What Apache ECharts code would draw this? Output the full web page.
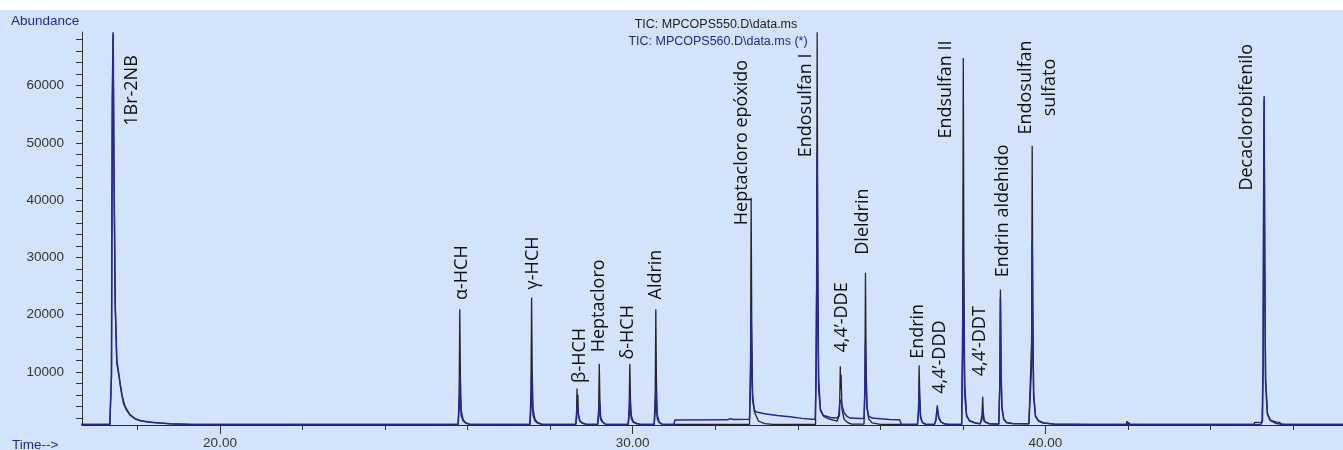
<!DOCTYPE html>
<html>
<head>
<meta charset="utf-8">
<title>TIC MPCOPS550 / MPCOPS560</title>
<script src="https://cdn.jsdelivr.net/npm/echarts@6/dist/echarts.min.js"></script>
<style>
  html, body { margin: 0; padding: 0; background: #ffffff; }
  #chart { width: 1343px; height: 450px; }
</style>
</head>
<body>
<div id="chart"></div>
<script>
// Retention-time window (min) and abundance window of the plot
const timeWindow = [16.656, 47.211];
const abundanceWindow = [744, 69343];

// Axis ticks and labels
const timeTicks = [18, 20, 22, 24, 26, 28, 30, 32, 34, 36, 38, 40, 42, 44, 46];
const timeLabels = [20, 30, 40];
const abundanceTicks = [2000, 4000, 6000, 8000, 10000, 12000, 14000, 16000, 18000, 20000,
  22000, 24000, 26000, 28000, 30000, 32000, 34000, 36000, 38000, 40000, 42000, 44000,
  46000, 48000, 50000, 52000, 54000, 56000, 58000, 60000, 62000, 64000, 66000, 68000];
const abundanceLabels = [10000, 20000, 30000, 40000, 50000, 60000];

// Trace names
const traceNames = ['TIC: MPCOPS550.D\\data.ms', 'TIC: MPCOPS560.D\\data.ms (*)'];

// TIC of MPCOPS550.D: [time (min), abundance]
const ticMPCOPS550 = [
  [16.50, 850], [17.33, 850], [17.37, 9000], [17.39, 55000], [17.41, 69000], [17.43, 46000],
  [17.46, 22000], [17.50, 11500], [17.56, 9000], [17.62, 6000], [17.70, 4000], [17.82, 2500],
  [17.95, 1800], [18.10, 1450], [18.30, 1200], [18.50, 1100], [18.80, 950], [19.30, 850],
  [25.77, 850], [25.795, 6300], [25.81, 20950], [25.825, 9400], [25.845, 3300], [25.89, 1700], [25.95, 1150], [26.05, 850],
  [27.51, 850], [27.535, 6900], [27.55, 22980], [27.565, 10300], [27.585, 3500], [27.63, 1800], [27.69, 1200], [27.80, 850],
  [28.62, 850], [28.64, 3200], [28.65, 7100], [28.66, 4000], [28.67, 6000], [28.685, 2600], [28.72, 1500], [28.78, 1100], [28.88, 850],
  [29.15, 850], [29.175, 3500], [29.19, 11440], [29.205, 5200], [29.225, 2100], [29.27, 1300], [29.35, 850],
  [29.89, 850], [29.915, 4000], [29.93, 11440], [29.945, 5500], [29.965, 2400], [30.01, 1400], [30.08, 1050], [30.18, 850],
  [30.52, 850], [30.545, 6000], [30.56, 20950], [30.575, 8500], [30.595, 2600], [30.64, 1300], [30.72, 850],
  [32.83, 850], [32.855, 12000], [32.87, 40400], [32.885, 18000], [32.905, 6000], [32.95, 3000],
  [33.05, 1400], [33.20, 1000], [33.40, 850], [34.43, 850], [34.455, 25000], [34.47, 69300], [34.485, 30000], [34.505, 9000],
  [34.55, 3500], [34.62, 2300], [34.75, 1800], [34.95, 1400], [34.98, 1300], [35.01, 2500], [35.03, 11000],
  [35.04, 7000], [35.05, 9500], [35.07, 3500], [35.12, 1800], [35.20, 1200], [35.30, 900], [35.605, 900],
  [35.625, 8000], [35.64, 27300], [35.655, 12000], [35.675, 4000], [35.72, 1800], [35.80, 1100], [36.00, 850],
  [36.90, 850], [36.925, 3500], [36.94, 11150], [36.955, 6000], [36.975, 2300], [37.02, 1200], [37.10, 850],
  [37.31, 850], [37.35, 1800], [37.37, 3500], [37.38, 4200], [37.395, 3200], [37.42, 2000], [37.47, 1300], [37.55, 950], [37.65, 850],
  [37.97, 850], [37.995, 20000], [38.01, 64800], [38.025, 28000], [38.045, 8000], [38.09, 2500], [38.16, 1500], [38.30, 1100], [38.42, 950],
  [38.44, 950], [38.465, 2500], [38.48, 5670], [38.495, 3000], [38.515, 1600], [38.56, 1150], [38.65, 950], [38.82, 900],
  [38.87, 900], [38.895, 8000], [38.91, 24400], [38.925, 11000], [38.945, 4000], [38.99, 1800], [39.06, 1200], [39.20, 1000], [39.60, 950],
  [39.64, 950], [39.665, 15000], [39.68, 49500], [39.695, 21000], [39.715, 6500], [39.76, 2400], [39.83, 1500], [39.95, 1100], [40.20, 900],
  [41.05, 850], [41.08, 1100], [41.11, 850], [41.42, 850], [41.45, 1050], [41.48, 850],
  [41.96, 850], [41.98, 1400], [42.00, 760], [42.02, 1200], [42.05, 850],
  [44.03, 850], [44.06, 1100], [44.09, 850], [44.49, 850], [44.52, 1050], [44.55, 850],
  [45.05, 850], [45.07, 1200], [45.25, 1250], [45.275, 12000], [45.29, 44000], [45.30, 57500], [45.315, 30000],
  [45.335, 9000], [45.38, 2800], [45.45, 1600], [45.60, 1250], [45.68, 1200], [45.71, 850], [47.30, 850]
];

// TIC of MPCOPS560.D: [time (min), abundance]
const ticMPCOPS560 = [
  [16.50, 850], [17.33, 850], [17.37, 9600], [17.39, 58400], [17.41, 69300], [17.43, 47000],
  [17.46, 22000], [17.50, 12000], [17.54, 10000], [17.58, 7900], [17.66, 4500], [17.74, 3300],
  [17.82, 2500], [17.95, 1800], [18.06, 1500], [18.25, 1300], [18.47, 1150], [18.80, 950], [19.30, 850],
  [25.77, 850], [25.795, 3500], [25.81, 9300], [25.825, 5000], [25.845, 2400], [25.89, 1500], [25.95, 1100], [26.05, 850],
  [27.51, 850], [27.535, 3800], [27.55, 10000], [27.565, 5300], [27.585, 2500], [27.63, 1500], [27.69, 1100], [27.80, 850],
  [28.62, 850], [28.64, 2000], [28.655, 4300], [28.67, 3800], [28.69, 2200], [28.72, 1400], [28.78, 1050], [28.88, 850],
  [29.15, 850], [29.175, 2200], [29.19, 5150], [29.205, 3100], [29.225, 1700], [29.27, 1200], [29.35, 850],
  [29.89, 850], [29.915, 2500], [29.93, 5700], [29.945, 3600], [29.965, 1900], [30.01, 1250], [30.08, 1000], [30.18, 850],
  [30.52, 850], [30.545, 3000], [30.56, 7100], [30.575, 4000], [30.595, 1900], [30.64, 1150], [30.72, 850],
  [31.00, 850], [31.02, 1600], [32.30, 1650], [32.36, 1850], [32.45, 1700], [32.83, 1750],
  [32.855, 8000], [32.87, 21000], [32.885, 12000], [32.905, 5000], [32.95, 3300], [33.00, 3000],
  [33.20, 2700], [33.50, 2400], [33.81, 2200], [34.10, 1900], [34.34, 1750], [34.42, 1750],
  [34.445, 9000], [34.46, 25300], [34.47, 48600], [34.485, 22000], [34.505, 7000], [34.55, 3200],
  [34.62, 2400], [34.79, 2050], [34.95, 1950], [34.99, 2300], [35.02, 4800], [35.04, 5150],
  [35.07, 4200], [35.12, 2900], [35.20, 2200], [35.27, 1950], [35.51, 1900], [35.605, 1900],
  [35.625, 6000], [35.64, 15000], [35.655, 9000], [35.675, 3800], [35.72, 2300], [35.80, 1950],
  [36.00, 1850], [36.23, 1700], [36.47, 1650], [36.51, 850],
  [36.90, 850], [36.925, 2800], [36.94, 8000], [36.955, 4800], [36.975, 2000], [37.02, 1150], [37.10, 850],
  [37.31, 850], [37.35, 1600], [37.375, 3600], [37.395, 3000], [37.42, 1900], [37.47, 1250], [37.55, 950], [37.65, 850],
  [37.97, 850], [37.995, 12000], [38.01, 32800], [38.025, 18000], [38.045, 6000], [38.09, 2300], [38.16, 1450], [38.30, 1100], [38.42, 950],
  [38.44, 950], [38.465, 1800], [38.48, 3080], [38.495, 2300], [38.515, 1400], [38.56, 1100], [38.65, 950], [38.82, 900],
  [38.87, 900], [38.895, 7500], [38.91, 23000], [38.925, 10500], [38.945, 3800], [38.99, 1700], [39.06, 1150], [39.20, 1000], [39.60, 950],
  [39.64, 950], [39.665, 11000], [39.68, 32800], [39.695, 17000], [39.715, 5500], [39.76, 2200], [39.83, 1450], [39.95, 1100], [40.20, 900],
  [41.05, 850], [41.08, 1050], [41.11, 850], [41.96, 850], [41.98, 1300], [42.00, 770], [42.02, 1100], [42.05, 850],
  [45.22, 850], [45.26, 1500], [45.275, 10000], [45.29, 46300], [45.30, 58150], [45.315, 28000],
  [45.335, 8000], [45.38, 2600], [45.45, 1500], [45.60, 1000], [45.80, 850], [47.30, 850]
];

// Compound annotations: name and label centre (time, abundance)
const compoundNames = ['1Br-2NB', 'α-HCH', 'γ-HCH', 'β-HCH', 'Heptacloro', 'δ-HCH', 'Aldrin',
  'Heptacloro epóxido', 'Endosulfan I', '4,4’-DDE', 'Dleldrin', 'Endrin', '4,4’-DDD',
  'Endsulfan II', '4,4’-DDT', 'Endrin aldehido', 'Endosulfan\nsulfato', 'Decaclorobifenilo'];
const labelTimes = [17.868, 25.857, 27.577, 28.723, 29.191, 29.893, 30.565, 32.641, 34.199,
  35.064, 35.588, 36.920, 37.446, 37.591, 38.415, 38.980, 39.821, 44.878];
const labelAbundances = [59135, 27336, 29031, 12889, 21540, 16920, 27007, 50052, 56540,
  19516, 36246, 17093, 12595, 59308, 15363, 38114, 59654, 54464];

const AXIS_FONT = '"Liberation Sans", Arial, sans-serif';
const LABEL_FONT = '"Open Sans", "Noto Sans", sans-serif';
const DARK_BLUE = '#26269a';

const labelData = labelTimes.map((t, i) => [t, labelAbundances[i]]);

const chart = echarts.init(document.getElementById('chart'), null, { renderer: 'canvas' });

const sharedX = {
  type: 'value',
  gridIndex: 0,
  position: 'bottom',
  min: timeWindow[0],
  max: timeWindow[1],
  splitLine: { show: false }
};

chart.setOption({
  animation: false,
  backgroundColor: '#d3e3fb',
  grid: { left: 82, right: 0, top: 32, bottom: 21.5, containLabel: false },
  xAxis: [
    Object.assign({}, sharedX, {
      axisLine: { show: true, onZero: false, lineStyle: { color: '#1f1f80', width: 1.2 } },
      axisTick: { show: true, length: 5, customValues: timeTicks, lineStyle: { color: '#333333' } },
      axisLabel: { show: false }
    }),
    Object.assign({}, sharedX, {
      axisLine: { show: false, onZero: false },
      axisTick: { show: true, length: 9, customValues: timeLabels, lineStyle: { color: '#333333' } },
      axisLabel: {
        show: true, customValues: timeLabels, margin: 11,
        formatter: v => v.toFixed(2),
        fontFamily: AXIS_FONT, fontSize: 13.5, color: '#333333'
      }
    })
  ],
  yAxis: {
    type: 'value',
    min: abundanceWindow[0],
    max: abundanceWindow[1],
    splitLine: { show: false },
    axisLine: { show: true, onZero: false, lineStyle: { color: '#333333', width: 1 } },
    axisTick: { show: true, length: 6, customValues: abundanceTicks, lineStyle: { color: '#333333' } },
    axisLabel: {
      show: true, customValues: abundanceLabels, margin: 18,
      formatter: v => String(Math.round(v)),
      fontFamily: AXIS_FONT, fontSize: 13.5, color: '#333333'
    }
  },
  graphic: [
    { type: 'rect', z: 100, shape: { x: 0, y: 0, width: 1343, height: 10 }, style: { fill: '#ffffff' } },
    { type: 'text', z: 100, x: 11, y: 21,
      style: { text: 'Abundance', fill: DARK_BLUE, font: '13.5px ' + AXIS_FONT, align: 'left', verticalAlign: 'middle', textAlign: 'left', textVerticalAlign: 'middle' } },
    { type: 'text', z: 100, x: 12, y: 445,
      style: { text: 'Time-->', fill: DARK_BLUE, font: '13.5px ' + AXIS_FONT, align: 'left', verticalAlign: 'middle', textAlign: 'left', textVerticalAlign: 'middle' } },
    { type: 'text', z: 100, x: 716, y: 25,
      style: { text: traceNames[0], fill: '#222222', font: '12.5px ' + AXIS_FONT, align: 'center', verticalAlign: 'middle', textAlign: 'center', textVerticalAlign: 'middle' } },
    { type: 'text', z: 100, x: 718, y: 42,
      style: { text: traceNames[1], fill: DARK_BLUE, font: '12.5px ' + AXIS_FONT, align: 'center', verticalAlign: 'middle', textAlign: 'center', textVerticalAlign: 'middle' } }
  ],
  series: [
    {
      name: traceNames[0], type: 'line', data: ticMPCOPS550, xAxisIndex: 0, yAxisIndex: 0,
      showSymbol: false, symbol: 'none', clip: true, z: 2,
      lineStyle: { color: '#262626', width: 1.3 }
    },
    {
      name: traceNames[1], type: 'line', data: ticMPCOPS560, xAxisIndex: 0, yAxisIndex: 0,
      showSymbol: false, symbol: 'none', clip: true, z: 3,
      lineStyle: { color: DARK_BLUE, width: 1.5 }
    },
    {
      name: 'compounds', type: 'custom', data: labelData, xAxisIndex: 0, yAxisIndex: 0, z: 4,
      renderItem: (params, api) => {
        const p = api.coord([api.value(0), api.value(1)]);
        return {
          type: 'text', x: p[0], y: p[1], rotation: Math.PI / 2,
          style: {
            text: compoundNames[params.dataIndex], fill: '#111111',
            font: '18px ' + LABEL_FONT, lineHeight: 24,
            align: 'center', verticalAlign: 'middle'
          }
        };
      }
    }
  ]
});
</script>
</body>
</html>
